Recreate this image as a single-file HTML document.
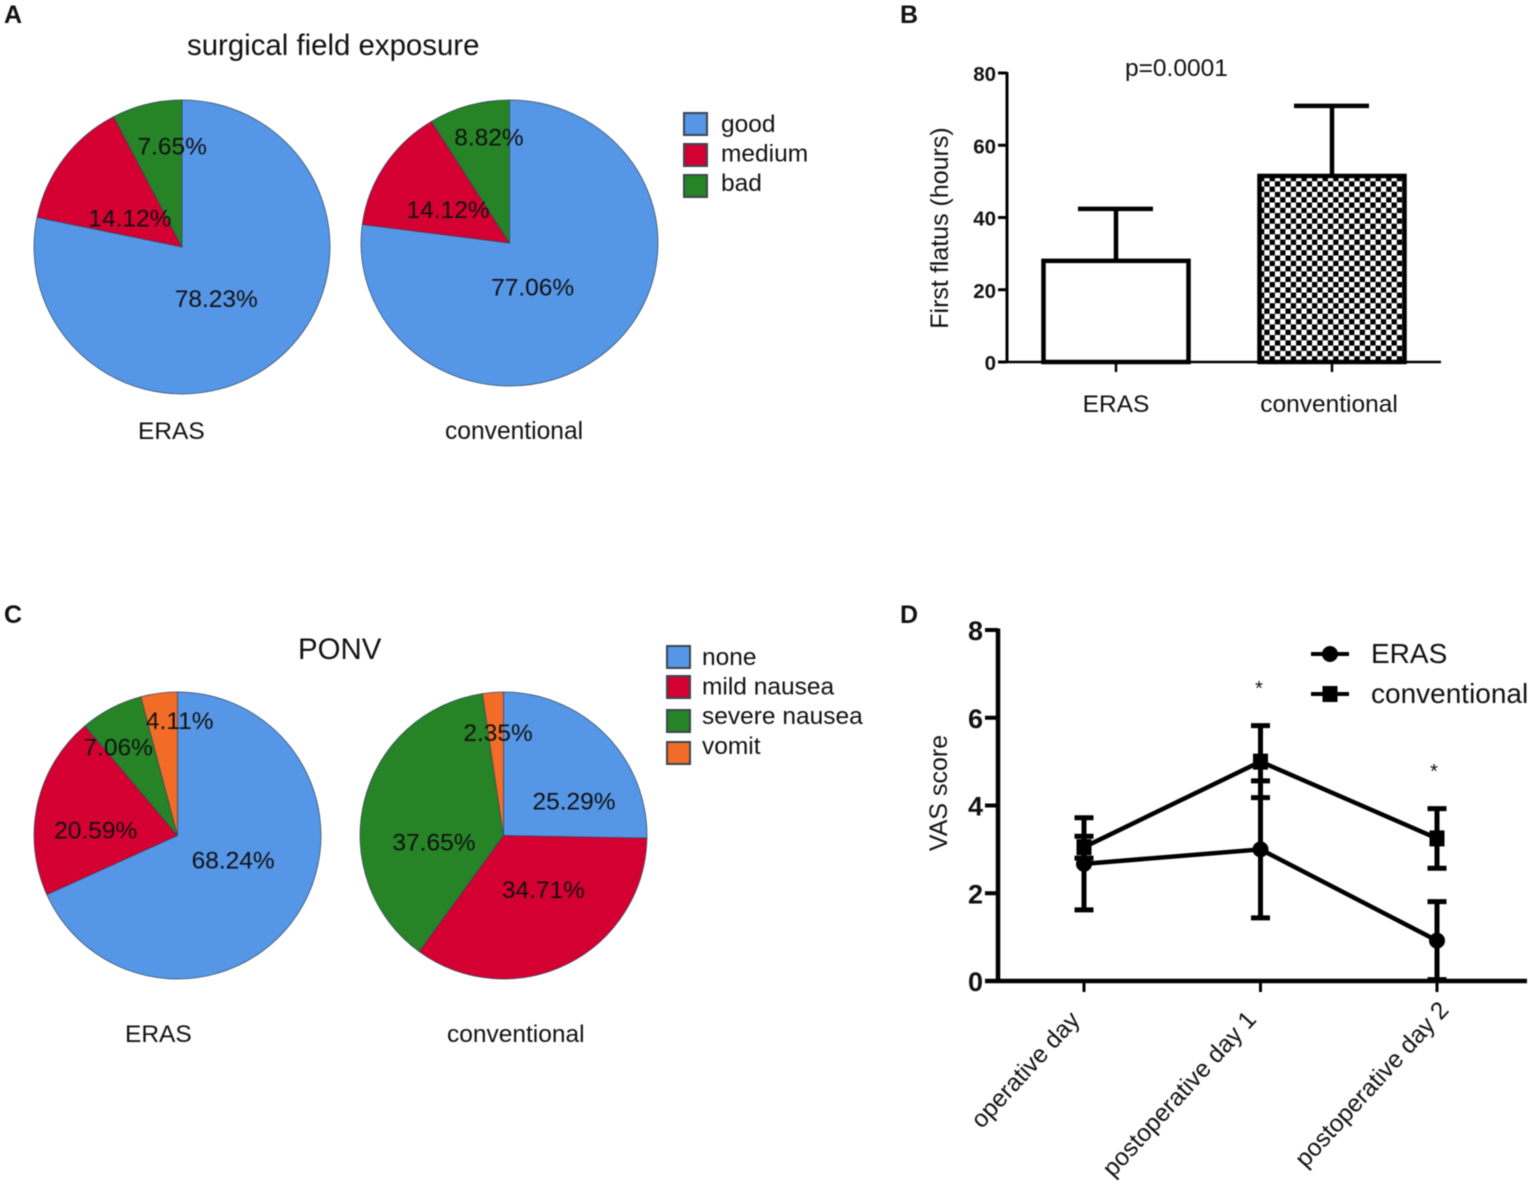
<!DOCTYPE html>
<html>
<head>
<meta charset="utf-8">
<title>ERAS vs conventional figure</title>
<style>
html,body{margin:0;padding:0;background:#fff}
svg{display:block;filter:blur(0.4px)}
text{font-family:"Liberation Sans",Arial,sans-serif;fill:#111}
</style>
</head>
<body>
<svg id="figure" width="1535" height="1186" viewBox="0 0 1535 1186" xmlns="http://www.w3.org/2000/svg">
<defs>
<pattern id="checker" width="10.6" height="10.6" patternUnits="userSpaceOnUse" x="1259" y="176">
<rect width="10.6" height="10.6" fill="#fff"/>
<rect width="5.3" height="5.3" fill="#000"/>
<rect x="5.3" y="5.3" width="5.3" height="5.3" fill="#000"/>
</pattern>
</defs>
<g id="root"></g>
</svg>
<script>
// Panel A
const exposureCategories = ['good', 'medium', 'bad'];
const exposureEras = [78.23, 14.12, 7.65];
const exposureConventional = [77.06, 14.12, 8.82];
// Panel C
const ponvCategories = ['none', 'mild nausea', 'severe nausea', 'vomit'];
const ponvEras = [68.24, 20.59, 7.06, 4.11];
const ponvConventional = [25.29, 34.71, 37.65, 2.35];
// Panel B
const flatusGroups = ['ERAS', 'conventional'];
const flatusMeans = [28, 51.5];
const flatusErrors = [14.4, 19.4];
const flatusTicks = [0, 20, 40, 60, 80];
// Panel D
const vasDays = ['operative day', 'postoperative day 1', 'postoperative day 2'];
const vasErasMeans = [2.67, 3.0, 0.92];
const vasErasErrors = [1.05, 1.56, 0.89];
const vasConventionalMeans = [3.05, 5.0, 3.25];
const vasConventionalErrors = [0.25, 0.82, 0.68];
const vasTicks = [0, 2, 4, 6, 8];

const NS = 'http://www.w3.org/2000/svg';
const root = document.getElementById('root');
const sliceColors = ['#5596e6', '#d50032', '#268326', '#f26c28'];

function svgEl(tag, attrs, parent) {
  const el = document.createElementNS(NS, tag);
  for (const k in attrs) el.setAttribute(k, attrs[k]);
  (parent || root).appendChild(el);
  return el;
}
function label(str, x, y, size, opts) {
  const o = opts || {};
  const attrs = { x: x, y: y, 'font-size': size };
  if (o.anchor) attrs['text-anchor'] = o.anchor;
  if (o.bold) attrs['font-weight'] = 'bold';
  if (o.transform) attrs.transform = o.transform;
  const t = svgEl('text', attrs, o.parent);
  t.textContent = str;
  return t;
}
function line(x1, y1, x2, y2, w, parent) {
  return svgEl('line', { x1: x1, y1: y1, x2: x2, y2: y2, stroke: '#000', 'stroke-width': w }, parent);
}

/* ---------- pies ---------- */
function drawPie(name, values, geo, nudges) {
  const g = svgEl('g', {});
  
  
  const total = values.reduce(function (a, b) { return a + b; }, 0);
  const pt = function (frac, k) {
    const a = frac * 2 * Math.PI;
    return [geo.cx + k * geo.rx * Math.sin(a), geo.cy - k * geo.ry * Math.cos(a)];
  };
  let acc = 0;
  values.forEach(function (v, i) {
    const f0 = acc / total;
    const f1 = (acc + v) / total;
    const p0 = pt(f0, 1);
    const p1 = pt(f1, 1);
    const large = (f1 - f0) > 0.5 ? 1 : 0;
    const d = 'M' + geo.cx + ' ' + geo.cy + ' L' + p0[0] + ' ' + p0[1] +
      ' A' + geo.rx + ' ' + geo.ry + ' 0 ' + large + ' 1 ' + p1[0] + ' ' + p1[1] + ' Z';
    const slice = svgEl('path', { d: d, fill: sliceColors[i], stroke: '#33475c', 'stroke-width': 0.7 }, g);
    
    
    acc += v;
  });
  acc = 0;
  values.forEach(function (v, i) {
    const mid = (acc + v / 2) / total;
    const p = pt(mid, 0.42);
    const t = label(v.toFixed(2) + '%', p[0] + nudges[i][0], p[1] + nudges[i][1] + 8.5, 24.5, { anchor: 'middle', parent: g });
    
    
    acc += v;
  });
}

drawPie('exposure-eras-pie', exposureEras, { cx: 182, cy: 247, rx: 148, ry: 147 }, [[-5, 3.5], [-2.5, 8], [5, -41]]);
drawPie('exposure-conventional-pie', exposureConventional, { cx: 509.5, cy: 243, rx: 148.5, ry: 143 }, [[-18, -1], [-9, -1], [-3.5, -48]]);
drawPie('ponv-eras-pie', ponvEras, { cx: 177.5, cy: 835.5, rx: 143.5, ry: 143.5 }, [[5, -8], [-23, 8], [-31.5, -35], [10, -55]]);
drawPie('ponv-conventional-pie', ponvConventional, { cx: 503.5, cy: 835.5, rx: 143.5, ry: 143.5 }, [[27.5, 7.5], [13, 0], [-11, 21], [-1, -43]]);

function drawLegend(name, categories, swatchX, swatchYs, textX, textY0) {
  const g = svgEl('g', {});
  
  
  categories.forEach(function (c, i) {
    const s = svgEl('rect', { x: swatchX, y: swatchYs[i], width: 23, height: 22, fill: sliceColors[i], stroke: '#3c4650', 'stroke-width': 2 }, g);
    
    
    const t = label(c, textX, textY0 + 29.6 * i, 24.5, { parent: g });
    
    
  });
}
drawLegend('exposure-legend', exposureCategories, 684, [113, 144, 175], 721, 132);
drawLegend('ponv-legend', ponvCategories, 667, [646, 676, 710, 742], 702, 665);

const staticLabels = [
  ['panel-a-label', 'A', 4, 23, 25, true],
  ['panel-b-label', 'B', 900, 23, 25, true],
  ['panel-c-label', 'C', 4, 623, 25, true],
  ['panel-d-label', 'D', 900, 623, 25, true],
  ['exposure-title', 'surgical field exposure', 187, 55, 29.4, false],
  ['ponv-title', 'PONV', 298, 659, 29.4, false],
  ['exposure-eras-label', 'ERAS', 138, 439, 24.5, false],
  ['exposure-conventional-label', 'conventional', 445, 439, 24.6, false],
  ['ponv-eras-label', 'ERAS', 125, 1042, 24.5, false],
  ['ponv-conventional-label', 'conventional', 447, 1042, 24.5, false],
  ['p-value-label', 'p=0.0001', 1125, 76, 24.5, false]
];
staticLabels.forEach(function (s) {
  const t = label(s[1], s[2], s[3], s[4], { bold: s[5] });
  
  
});

/* ---------- panel B ---------- */
const bY = function (v) { return 362 - v * (362 - 73) / 80; };
const bCenters = function (i) { return 1116 + i * 216; };
const bGroup = svgEl('g', {});


flatusGroups.forEach(function (name, i) {
  const cx = bCenters(i);
  const err = line(cx, bY(flatusMeans[i]), cx, bY(flatusMeans[i] + flatusErrors[i]), 4.5, bGroup);
  
  
  const cap = line(cx - 38, bY(flatusMeans[i] + flatusErrors[i]), cx + 37, bY(flatusMeans[i] + flatusErrors[i]), 4.5, bGroup);
  
  
  const bar = svgEl('rect', {
    x: cx - 72.5, y: bY(flatusMeans[i]), width: 145, height: bY(0) - bY(flatusMeans[i]),
    fill: i === 0 ? '#fff' : 'url(#checker)', stroke: '#000', 'stroke-width': 4.5
  }, bGroup);
  
  
  const tick = line(cx, 362, cx, 372, 2.5, bGroup);
  
  
  const t = label(name, cx + (i === 0 ? 0 : -3), 412, 24.5, { anchor: 'middle', parent: bGroup });
  
  
});
const bYAxis = line(1007, 72, 1007, 363, 3, bGroup);


const bXAxis = line(998, 362, 1441, 362, 2.5, bGroup);


flatusTicks.forEach(function (v) {
  const tick = line(998, bY(v), 1007, bY(v), 3, bGroup);
  
  
  const t = label(String(v), 996, bY(v) + 8, 20.5, { anchor: 'end', bold: true, parent: bGroup });
  
  
});
const bTitle = label('First flatus (hours)', 0, 0, 25, { anchor: 'middle', parent: bGroup, transform: 'translate(948 228) rotate(-90)' });



/* ---------- panel D ---------- */
const dY = function (v) { return 981 - v * (981 - 630) / 8; };
const dX = function (i) { return 1084 + i * 176.5; };
const dLabelNudge = [[-3, 1], [-3, 0.5], [13, -9]];
const dGroup = svgEl('g', {});



function marker(kind, x, y, parent) {
  if (kind === 'circle') return svgEl('circle', { cx: x, cy: y, r: 8, fill: '#000' }, parent);
  return svgEl('rect', { x: x - 7.5, y: y - 8, width: 15, height: 16, fill: '#000' }, parent);
}
function drawSeries(name, means, errors, kind) {
  const g = svgEl('g', {}, dGroup);
  
  
  const pts = means.map(function (m, i) { return dX(i) + ',' + dY(m); }).join(' ');
  const pl = svgEl('polyline', { points: pts, fill: 'none', stroke: '#000', 'stroke-width': 4.5 }, g);
  
  
  means.forEach(function (m, i) {
    const x = dX(i);
    const hi = dY(m + errors[i]);
    const lo = dY(m - errors[i]);
    const e = line(x, hi, x, lo, 5, g);
    
    
    const c1 = line(x - 9.5, hi, x + 9.5, hi, 5, g);
    
    
    const c2 = line(x - 9.5, lo, x + 9.5, lo, 5, g);
    
    
    const mk = marker(kind, x, dY(m), g);
    
    
  });
}
drawSeries('eras-series', vasErasMeans, vasErasErrors, 'circle');
drawSeries('conventional-series', vasConventionalMeans, vasConventionalErrors, 'square');

const dYAxis = line(998, 628.5, 998, 983, 4.5, dGroup);


const dXAxis = line(985, 981, 1527, 981, 4.5, dGroup);


vasTicks.forEach(function (v) {
  const tick = line(985, dY(v), 998, dY(v), 4, dGroup);
  
  
  const t = label(String(v), 983, dY(v) + 10, 27, { bold: true, parent: dGroup, anchor: 'end' });
  
  
});
vasDays.forEach(function (d, i) {
  const tick = line(dX(i), 981, dX(i), 992, 3, dGroup);
  
  
  const t = label(d, 0, 0, 24.5, { anchor: 'end', parent: dGroup, transform: 'translate(' + (dX(i) + dLabelNudge[i][0]) + ' ' + (1020 + dLabelNudge[i][1]) + ') rotate(-47.5)' });
  
  
});
const dTitle = label('VAS score', 0, 0, 25, { anchor: 'middle', parent: dGroup, transform: 'translate(947 793) rotate(-90)' });



const star1 = label('*', 1259, 695, 20, { anchor: 'middle', parent: dGroup });


const star2 = label('*', 1434, 778, 20, { anchor: 'middle', parent: dGroup });



const dLegend = svgEl('g', {}, dGroup);


[['ERAS', 'circle', 654], ['conventional', 'square', 694]].forEach(function (e) {
  const l = line(1311, e[2], 1349, e[2], 4, dLegend);
  
  
  const m = marker(e[1], 1330, e[2], dLegend);
  
  
  const t = label(e[0], 1371, e[2] + 9, 28, { parent: dLegend });
  
  
});
</script>
</body>
</html>
